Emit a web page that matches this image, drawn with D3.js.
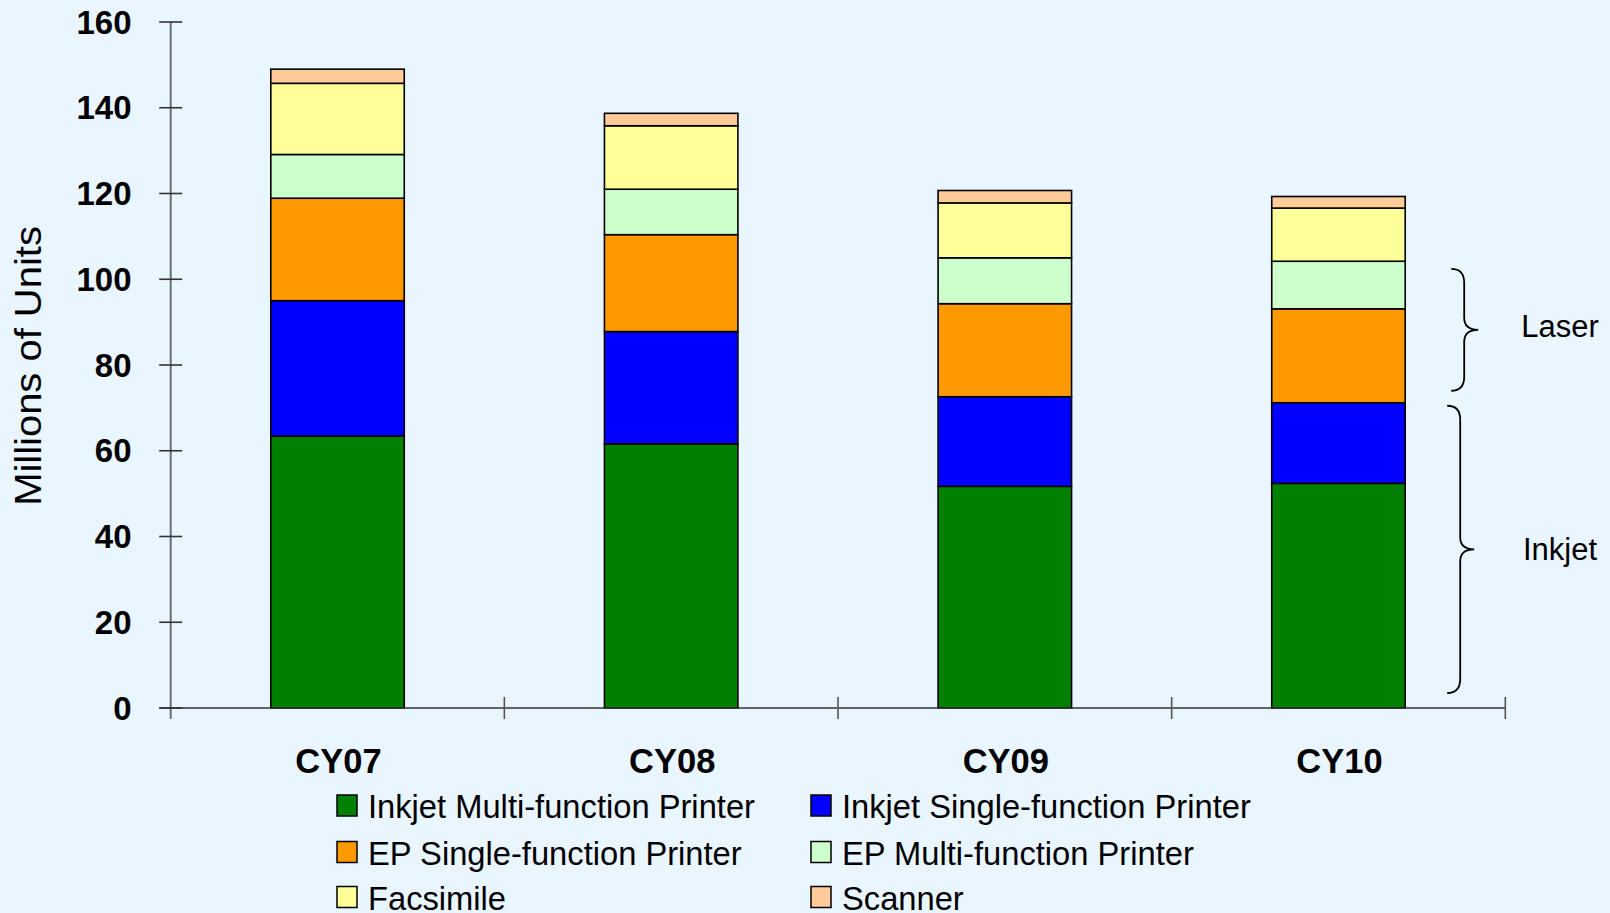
<!DOCTYPE html>
<html>
<head>
<meta charset="utf-8">
<script src="https://cdn.jsdelivr.net/npm/d3@7"></script>
<style>
  html, body { margin: 0; padding: 0; background: #E9F5FF; }
  svg { display: block; }
  text { font-family: "Liberation Sans", Arial, sans-serif; fill: #000; }
</style>
</head>
<body>
<svg id="chart" width="1610" height="913"></svg>
<script>
// ---- data ----
const categories = ["CY07", "CY08", "CY09", "CY10"];
const seriesNames = [
  "Inkjet Multi-function Printer",
  "Inkjet Single-function Printer",
  "EP Single-function Printer",
  "EP Multi-function Printer",
  "Facsimile",
  "Scanner"
];
const inkjetMFP = [63.4, 61.6, 51.7, 52.4];
const inkjetSFP = [31.6, 26.2, 20.9, 18.8];
const epSFP     = [23.9, 22.6, 21.7, 21.9];
const epMFP     = [10.2, 10.6, 10.7, 11.1];
const facsimile = [16.6, 14.8, 12.8, 12.4];
const scanner   = [3.3, 2.9, 2.9, 2.7];
const yTicks = [0, 20, 40, 60, 80, 100, 120, 140, 160];
const seriesColors = ["#008000", "#0000FF", "#FF9900", "#CCFFCC", "#FFFF99", "#FFCC99"];
// brace annotations: [label, from value, to value]
const braceLabels = ["Laser", "Inkjet"];
const braceFrom = [74.0, 3.5];
const braceTo = [102.4, 70.5];

// ---- layout ----
const svg = d3.select("#chart");
const W = 1610, H = 913;
const plotLeft = 170.7, plotRight = 1505.3, plotTop = 22, plotBottom = 708;

svg.append("rect").attr("width", W).attr("height", H).attr("fill", "#E9F5FF");

const x = d3.scaleBand().domain(categories).range([plotLeft, plotRight]).padding(0);
const y = d3.scaleLinear().domain([0, 160]).range([plotBottom, plotTop]);
const color = d3.scaleOrdinal().domain(seriesNames).range(seriesColors);

const allSeries = [inkjetMFP, inkjetSFP, epSFP, epMFP, facsimile, scanner];
const table = categories.map((c, i) => {
  const row = { cat: c };
  seriesNames.forEach((s, j) => row[s] = allSeries[j][i]);
  return row;
});
const stacked = d3.stack().keys(seriesNames)(table);

const barFrac = 0.4;
const bw = x.bandwidth() * barFrac;
const barOff = x.bandwidth() * (1 - barFrac) / 2;

// bars
const g = svg.append("g");
stacked.forEach(layer => {
  g.selectAll(null).data(layer).enter().append("rect")
    .attr("x", d => x(d.data.cat) + barOff)
    .attr("y", d => y(d[1]))
    .attr("width", bw)
    .attr("height", d => y(d[0]) - y(d[1]))
    .attr("fill", color(layer.key))
    .attr("stroke", "#000")
    .attr("stroke-width", 1.6);
});

// y axis
svg.append("line")
  .attr("x1", plotLeft).attr("x2", plotLeft)
  .attr("y1", y(160)).attr("y2", plotBottom + 11)
  .attr("stroke", "#6b6f74").attr("stroke-width", 2);
svg.selectAll(".ytick").data(yTicks).enter().append("line")
  .attr("x1", plotLeft - 11.5).attr("x2", plotLeft + 11.5)
  .attr("y1", d => y(d)).attr("y2", d => y(d))
  .attr("stroke", "#333").attr("stroke-width", 1.6);
svg.selectAll(".ylab").data(yTicks).enter().append("text")
  .attr("x", 131.5).attr("y", d => y(d))
  .attr("text-anchor", "end").attr("dominant-baseline", "central")
  .attr("font-weight", "bold").attr("font-size", 33)
  .text(d => d);

// x axis
svg.append("line")
  .attr("x1", plotLeft - 11.5).attr("x2", plotRight)
  .attr("y1", plotBottom).attr("y2", plotBottom)
  .attr("stroke", "#333").attr("stroke-width", 1.6);
const xEdges = categories.map(c => x(c)).concat([x(categories[categories.length - 1]) + x.bandwidth()]);
svg.selectAll(".xtick").data(xEdges.slice(1)).enter().append("line")
  .attr("x1", d => d).attr("x2", d => d)
  .attr("y1", plotBottom - 11).attr("y2", plotBottom + 11)
  .attr("stroke", "#555").attr("stroke-width", 1.6);
svg.selectAll(".xlab").data(categories).enter().append("text")
  .attr("x", d => x(d) + x.bandwidth() / 2 + 1)
  .attr("y", 760.5)
  .attr("text-anchor", "middle").attr("dominant-baseline", "central")
  .attr("font-weight", "bold").attr("font-size", 34.5)
  .text(d => d);

// y title
svg.append("text")
  .attr("transform", "translate(28.5,366) rotate(-90) scale(1.08,1)")
  .attr("text-anchor", "middle").attr("dominant-baseline", "central")
  .attr("font-size", 37)
  .text("Millions of Units");

// braces
const braceX0 = x(categories[categories.length - 1]) + barOff + bw + 46;
const braceShift = [0, -4];
const labelShift = [-3.5, 0];
function bracePath(yTop, yBot, xl) {
  const p = d3.path();
  const mid = (yTop + yBot) / 2;
  const xv = xl + 13, xt = xl + 27;
  p.moveTo(xl, yTop);
  p.quadraticCurveTo(xv, yTop, xv, yTop + 14);
  p.lineTo(xv, mid - 12);
  p.quadraticCurveTo(xv, mid, xt, mid);
  p.quadraticCurveTo(xv, mid, xv, mid + 12);
  p.lineTo(xv, yBot - 14);
  p.quadraticCurveTo(xv, yBot, xl, yBot);
  return p.toString();
}
braceLabels.forEach((lab, i) => {
  const yTop = y(braceTo[i]), yBot = y(braceFrom[i]);
  const xl = braceX0 + braceShift[i];
  svg.append("path").attr("d", bracePath(yTop, yBot, xl))
    .attr("fill", "none").attr("stroke", "#000").attr("stroke-width", 1.8);
  svg.append("text")
    .attr("x", 1560).attr("y", (yTop + yBot) / 2 + labelShift[i])
    .attr("text-anchor", "middle").attr("dominant-baseline", "central")
    .attr("font-size", 31)
    .text(lab);
});

// legend
const legColX = [337, 811];
const legRowY = [805.5, 852, 897];
const leg = svg.append("g");
seriesNames.forEach((s, i) => {
  const cx = legColX[i % 2], cy = legRowY[Math.floor(i / 2)];
  leg.append("rect")
    .attr("x", cx).attr("y", cy - 10.5).attr("width", 20).attr("height", 21)
    .attr("fill", color(s)).attr("stroke", "#000").attr("stroke-width", 1.5);
  leg.append("text")
    .attr("x", cx + 31).attr("y", cy + 1)
    .attr("dominant-baseline", "central")
    .attr("font-size", 32.7)
    .text(s);
});
</script>
</body>
</html>
